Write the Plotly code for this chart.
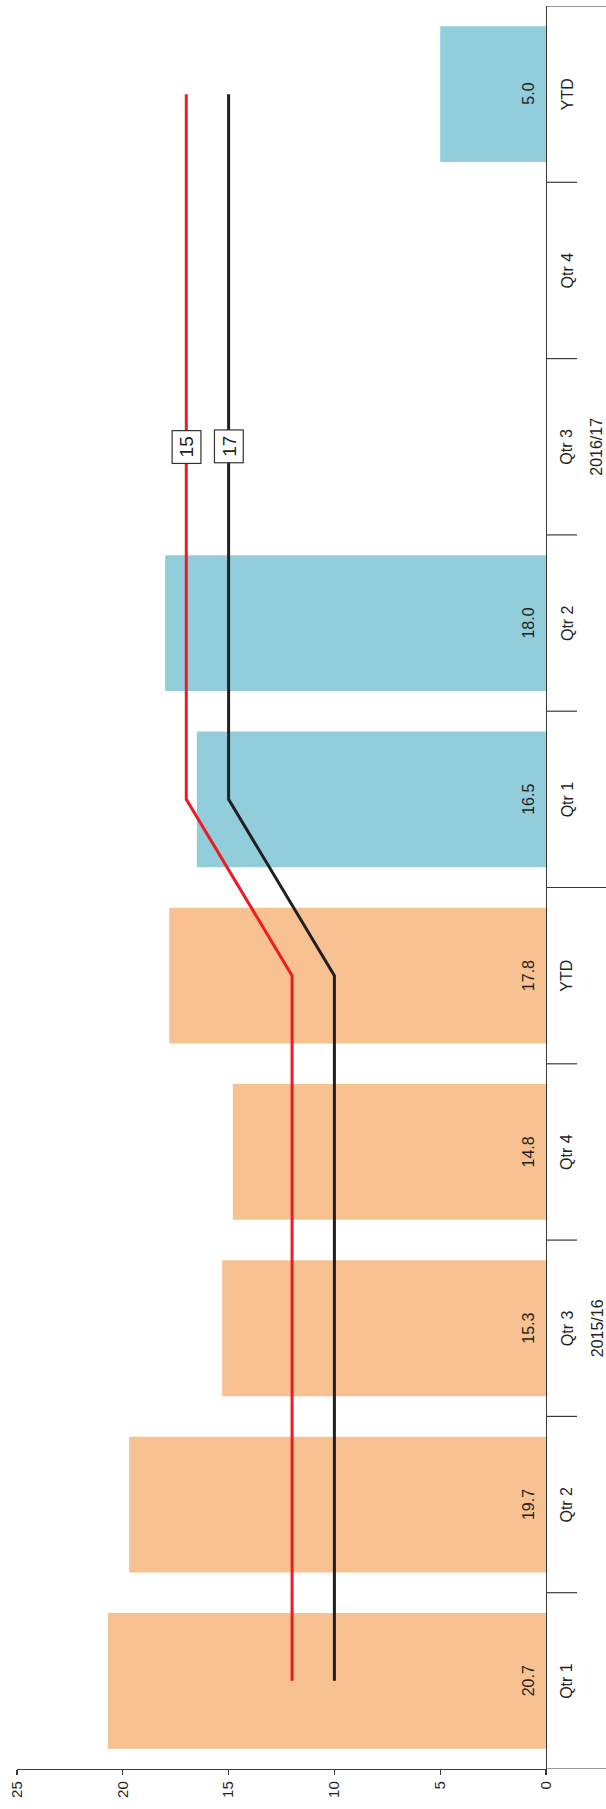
import plotly.graph_objects as go

# ---- data ----
periods = ["2015/16"] * 5 + ["2016/17"] * 5
quarters = ["Qtr 1", "Qtr 2", "Qtr 3", "Qtr 4", "YTD", "Qtr 1", "Qtr 2", "Qtr 3", "Qtr 4", "YTD"]
values = [20.7, 19.7, 15.3, 14.8, 17.8, 16.5, 18.0, None, None, 5.0]
red_line = [12, 12, 12, 12, 12, 17, 17, 17, 17, 17]
black_line = [10, 10, 10, 10, 10, 15, 15, 15, 15, 15]
red_box_label = "15"
black_box_label = "17"
box_index = 7
value_ticks = [0, 5, 10, 15, 20, 25]
period_colors = {"2015/16": "#F7C192", "2016/17": "#92CDDC"}

FONT = "Liberation Sans, Arial, sans-serif"
TXT = "#231F20"
AX = "#3a3a3a"

pos = list(range(len(quarters)))
W, H = 606, 1809
ML, MR, MT, MB = 17, 60, 6, 40
PW = W - ML - MR

fig = go.Figure()
fig.add_trace(go.Bar(
    x=values, y=pos, orientation="h",
    marker=dict(color=[period_colors[p] for p in periods], line=dict(width=0)),
    width=0.77, hoverinfo="skip",
))
fig.add_trace(go.Scatter(x=red_line, y=pos, mode="lines",
                         line=dict(color="#ED1C24", width=3), hoverinfo="skip"))
fig.add_trace(go.Scatter(x=black_line, y=pos, mode="lines",
                         line=dict(color="#231F20", width=3), hoverinfo="skip"))

ann = []
# value labels near the bar base
for i, v in enumerate(values):
    if v is None:
        continue
    ann.append(dict(x=0, y=i, xref="x", yref="y", text=f"{v:.1f}", showarrow=False,
                    textangle=-90, xanchor="center", yanchor="middle", xshift=-17.5,
                    font=dict(family=FONT, size=16, color=TXT)))
# category labels
for i, q in enumerate(quarters):
    ann.append(dict(x=1 + 21 / PW, y=i, xref="paper", yref="y", text=q, showarrow=False,
                    textangle=-90, xanchor="center", yanchor="middle",
                    font=dict(family=FONT, size=16, color=TXT)))
# period labels (centred on each group)
groups = []
for p in periods:
    if p not in groups:
        groups.append(p)
for g in groups:
    idx = [i for i, p in enumerate(periods) if p == g]
    ann.append(dict(x=1 + 51 / PW, y=sum(idx) / len(idx), xref="paper", yref="y", text=g,
                    showarrow=False, textangle=-90, xanchor="center", yanchor="middle",
                    borderpad=0,
                    font=dict(family=FONT, size=16, color=TXT)))
# boxed labels on lines
for xv, lab in [(red_line[box_index], red_box_label), (black_line[box_index], black_box_label)]:
    ann.append(dict(x=xv, y=box_index, xref="x", yref="y", text=lab, showarrow=False,
                    textangle=-90, xanchor="center", yanchor="middle",
                    width=32, height=28, borderpad=0, borderwidth=1.2,
                    bordercolor="#333333", bgcolor="white",
                    font=dict(family=FONT, size=19, color=TXT)))

shapes = []
n = len(quarters)
for k in range(n + 1):
    b = k - 0.5
    is_group_edge = (k == 0 or k == n or periods[k - 1] != periods[k])
    x1 = 1 + (MR + 1) / PW if is_group_edge else 1 + 31 / PW
    shapes.append(dict(type="line", xref="paper", yref="y", x0=1, x1=x1, y0=b, y1=b,
                       line=dict(color=AX, width=1.2)))

fig.update_layout(
    width=W, height=H,
    margin=dict(l=ML, r=MR, t=MT, b=MB, pad=0),
    paper_bgcolor="white", plot_bgcolor="white",
    showlegend=False,
    annotations=ann, shapes=shapes,
    xaxis=dict(range=[25, 0], tickvals=value_ticks, ticktext=[str(t) for t in value_ticks],
               ticks="outside", ticklen=5, tickwidth=1.2, tickcolor=AX,
               showline=True, linecolor=AX, linewidth=1.2,
               showgrid=False, zeroline=False, tickangle=-90,
               tickfont=dict(family=FONT, size=15, color=TXT)),
    yaxis=dict(range=[-0.5, n - 0.5], side="right", showline=True, linecolor=AX, linewidth=1.2,
               showticklabels=False, ticks="", showgrid=False, zeroline=False),
)

fig.write_html("out.html",
               config={"displayModeBar": False, "staticPlot": True},
               post_script="document.body.style.margin='0';document.body.style.overflow='hidden';")
